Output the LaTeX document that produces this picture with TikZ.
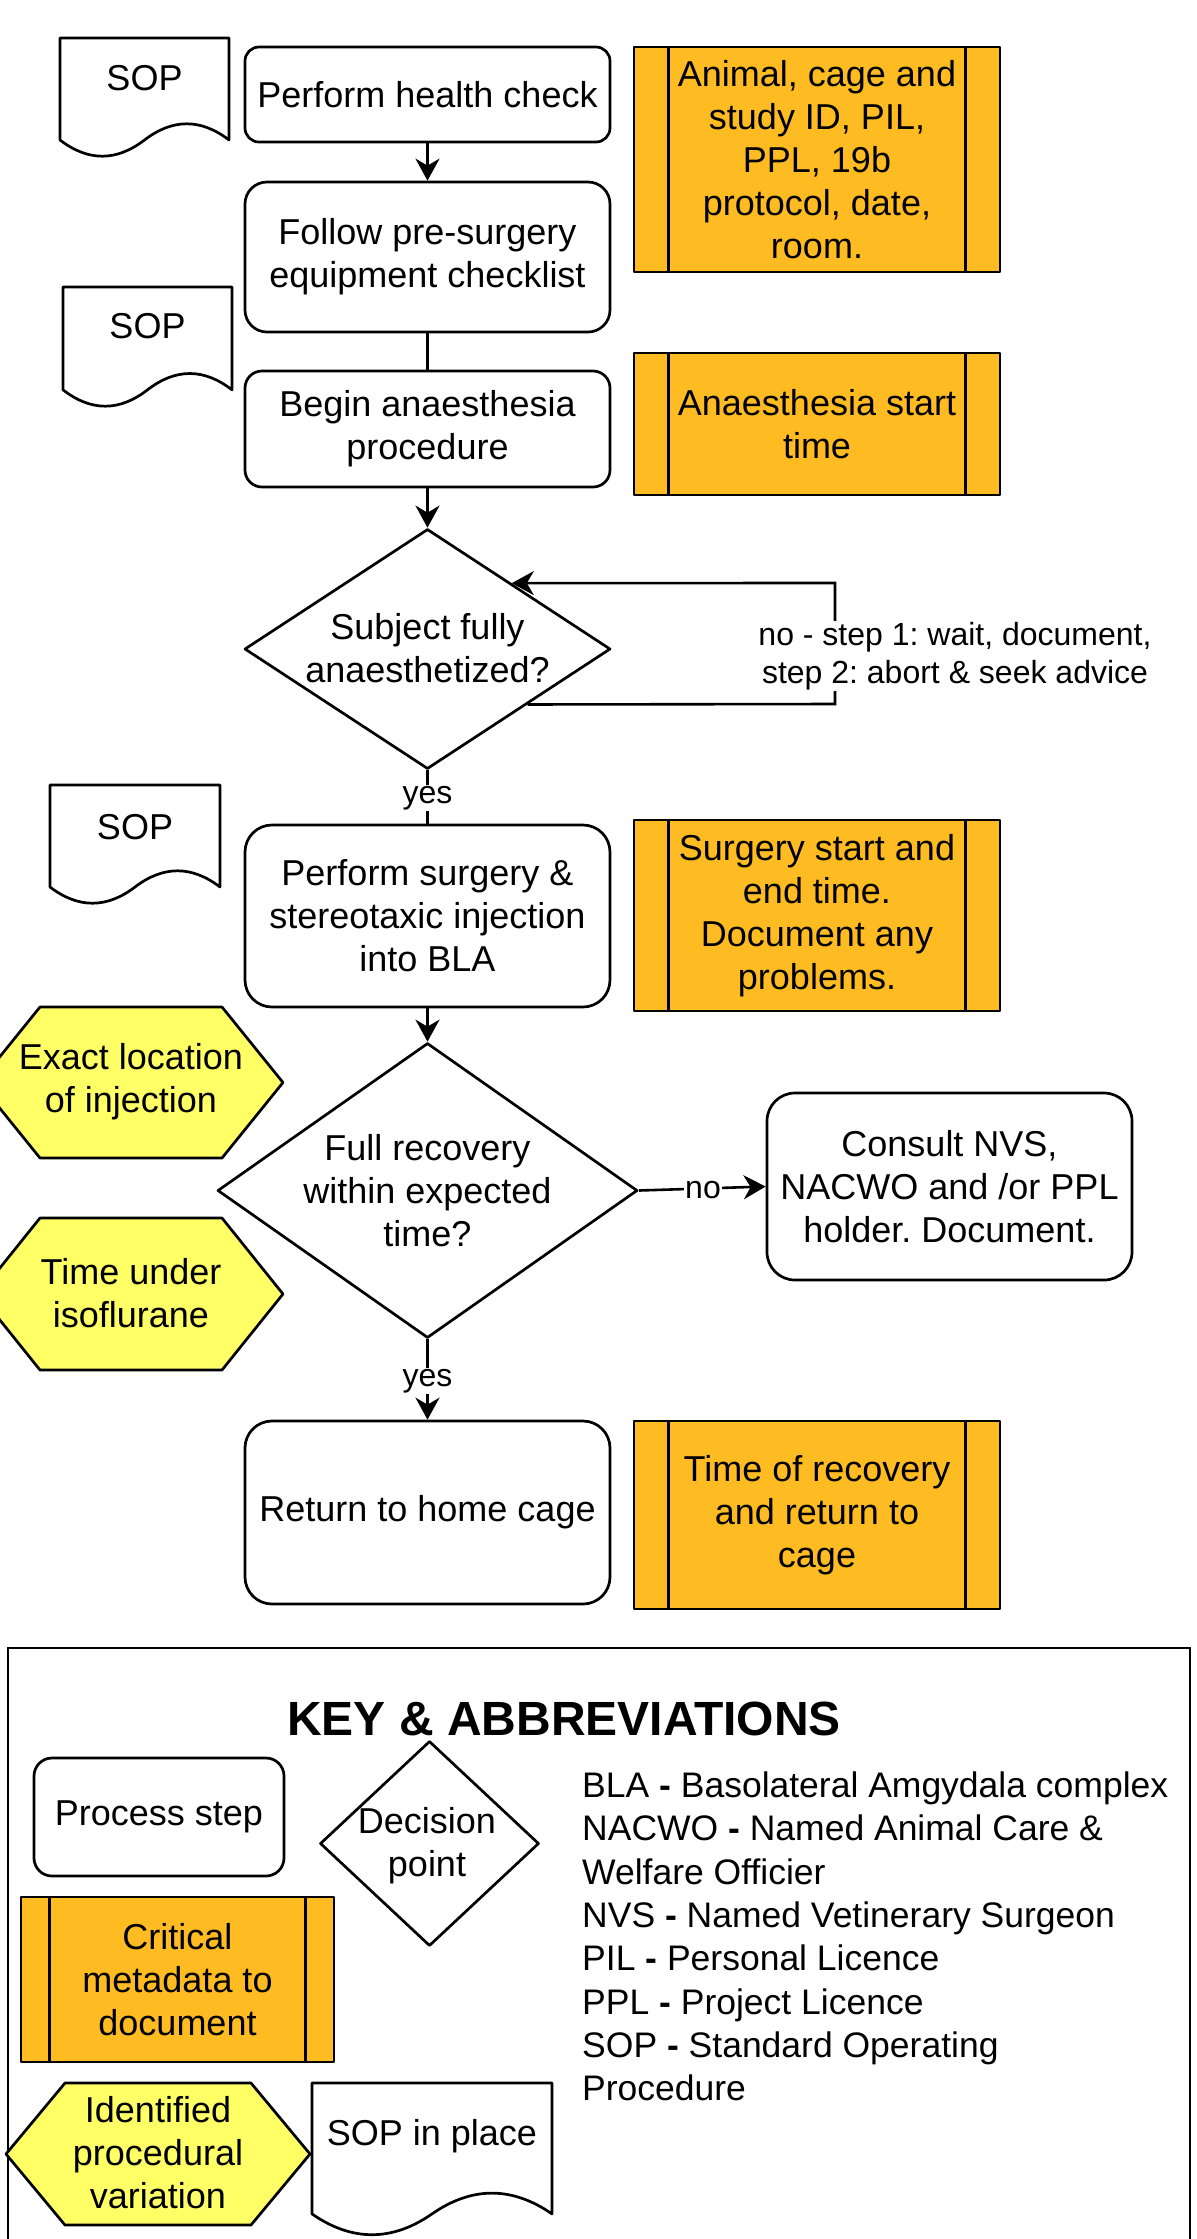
\documentclass[tikz,border=0pt]{standalone}
\usepackage{fontspec}
\setmainfont{Liberation Sans}
\usetikzlibrary{shapes.geometric,arrows.meta}
\definecolor{orng}{HTML}{FFBC22}
\definecolor{yel}{HTML}{FFFF66}
\frenchspacing
\newcommand{\mainfs}{\fontsize{36}{43}\selectfont}
\newcommand{\lblfs}{\fontsize{32}{38}\selectfont}
\newcommand{\abfs}{\fontsize{35.5}{43}\selectfont}
\newcommand{\ttlfs}{\fontsize{48}{58}\selectfont\bfseries}
% document shape: x0 y0 w h
\newcommand{\mydoc}[4]{%
  \draw[shp,fill=white] (#1,#2) -- ({#1+#3},#2) -- ({#1+#3},{#2+0.85*#4})
   .. controls ({#1+0.8333*#3},{#2+0.67*#4}) and ({#1+0.6667*#3},{#2+0.67*#4}) .. ({#1+0.5*#3},{#2+0.85*#4})
   .. controls ({#1+0.3333*#3},{#2+1.03*#4}) and ({#1+0.1667*#3},{#2+1.03*#4}) .. (#1,{#2+0.85*#4}) -- cycle;}
% hexagon: cx cy halfw halfh inset
\newcommand{\myhex}[5]{%
  \draw[shp,fill=yel] ({#1-#3},#2) -- ({#1-#3+#5},{#2-#4}) -- ({#1+#3-#5},{#2-#4}) -- ({#1+#3},#2)
   -- ({#1+#3-#5},{#2+#4}) -- ({#1-#3+#5},{#2+#4}) -- cycle;}
\tikzset{
  shp/.style={draw=black,line width=2.7pt,line join=round},
  proc/.style={shp,fill=white,inner sep=0pt,align=center,font=\mainfs},
  meta/.style={shp,fill=orng,inner sep=0pt,align=center,font=\mainfs,minimum width=366pt},
  dec/.style={shp,diamond,fill=white,inner sep=0pt},
  txt/.style={align=center,font=\mainfs,inner sep=0pt},
  lbl/.style={fill=white,inner sep=1.5pt,align=center,font=\lblfs},
  abl/.style={anchor=base west,inner sep=0pt,font=\abfs},
  ln/.style={line width=2.6pt},
  arr/.style={line width=2.6pt,-{Stealth[length=22pt,width=24pt,inset=7pt]}},
}
\begin{document}
\begin{tikzpicture}[x=1pt,y=-1pt]
\useasboundingbox (0,0) rectangle (1197,2239);

% ---------- SOP documents ----------
\mydoc{60}{38}{169}{120}
\node[txt] (sop1) at (144.5,78) {SOP};
\mydoc{63}{287}{169}{121}
\node[txt] (sop2) at (147.5,326) {SOP};
\mydoc{50}{785}{170}{120}
\node[txt] (sop3) at (135,827) {SOP};

% ---------- process boxes ----------
\node[proc,rounded corners=14pt,minimum width=365pt,minimum height=95pt] (b1) at (427.5,94.5) {Perform health check};
\node[proc,rounded corners=22pt,minimum width=365pt,minimum height=150pt] (b2) at (427.5,257) {Follow pre-surgery\\equipment checklist};
\node[proc,rounded corners=17pt,minimum width=365pt,minimum height=116pt] (b3) at (427.5,429) {Begin anaesthesia\\procedure};
\node[dec,minimum width=366pt,minimum height=240pt] (d1) at (427.5,649) {};
\node[txt] (d1t) at (427.5,648) {Subject fully\\anaesthetized?};
\node[proc,rounded corners=27pt,minimum width=365pt,minimum height=182pt] (b4) at (427.5,916) {Perform surgery \&\\stereotaxic injection\\into BLA};
\node[dec,minimum width=420pt,minimum height=295pt] (d2) at (427.5,1190.5) {};
\node[txt] (d2t) at (427.5,1191) {Full recovery\\within expected\\time?};
\node[proc,rounded corners=28pt,minimum width=365pt,minimum height=187pt] (con) at (949.5,1186.5) {Consult NVS,\\NACWO and /or PPL\\holder. Document.};
\node[proc,rounded corners=27pt,minimum width=365pt,minimum height=183pt] (ret) at (427.5,1512.5) {Return to home cage};

% ---------- metadata boxes ----------
\node[meta,minimum height=225pt] (o1) at (817,159.5) {Animal, cage and\\study ID, PIL,\\PPL, 19b\\protocol, date,\\room.};
\node[meta,minimum height=142pt] (o2) at (817,424) {Anaesthesia start\\time};
\node[meta,minimum height=191pt] (o3) at (817,915.5) {Surgery start and\\end time.\\Document any\\problems.};
\node[meta,minimum height=188pt] (o4) at (817,1515) {Time of recovery\\and return to\\cage};
\foreach \o in {o1,o2,o3,o4}{
  \draw[shp] ([xshift=36pt]\o.north west) -- ([xshift=36pt]\o.south west);
  \draw[shp] ([xshift=-36pt]\o.north east) -- ([xshift=-36pt]\o.south east);
}

% ---------- variation hexagons ----------
\myhex{131}{1082.5}{152}{75.5}{61}
\node[txt] (h1) at (131,1082) {Exact location\\of injection};
\myhex{131}{1294}{152}{76}{61}
\node[txt] (h2) at (131,1293) {Time under\\isoflurane};

% ---------- connectors ----------
\draw[arr] (b1.south) -- (b2.north);
\draw[ln] (b2.south) -- (b3.north);
\draw[arr] (b3.south) -- (d1.north);
\coordinate (lpA) at (835,704);
\coordinate (lpB) at (835,583);
\draw[arr] (d1.-29) -- (lpA) -- (lpB) -- (d1.38.7);
\node[lbl] (loopl) at (955,656) {no - step 1: wait, document,\\step 2: abort \& seek advice};
\draw[ln] (d1.south) -- (b4.north);
\node[lbl] (yes1) at (427.5,798) {yes};
\draw[arr] (b4.south) -- (d2.north);
\draw[arr] (d2.east) -- (con.west);
\node[lbl] (no2) at (703,1190) {no};
\draw[arr] (d2.south) -- (ret.north);
\node[lbl] (yes2) at (427.5,1381) {yes};

% ---------- key ----------
\draw[line width=2.4pt] (8,1648) rectangle (1190,2280);
\node[anchor=base,inner sep=0pt,font=\ttlfs] (title) at (564,1735) {KEY \& ABBREVIATIONS};
\node[proc,rounded corners=18pt,minimum width=250pt,minimum height=118pt] (kps) at (159,1817) {Process step};
\node[dec,minimum width=219pt,minimum height=205pt] (kd) at (429.5,1843.5) {};
\node[txt] (kdt) at (427,1846) {Decision\\point};
\node[meta,minimum width=313pt,minimum height=165pt] (kcm) at (177.5,1979.5) {Critical\\metadata to\\document};
\draw[shp] ([xshift=30pt]kcm.north west) -- ([xshift=30pt]kcm.south west);
\draw[shp] ([xshift=-30pt]kcm.north east) -- ([xshift=-30pt]kcm.south east);
\myhex{158}{2154}{152}{71}{59}
\node[txt] (khx) at (158,2153) {Identified\\procedural\\variation};
\mydoc{312}{2083}{240}{154}
\node[txt] (kdoc) at (432,2136) {SOP in place};

\node[abl] (ab1) at (582,1797) {BLA \textbf{-} Basolateral Amgydala complex};
\node[abl] (ab2) at (582,1840) {NACWO \textbf{-} Named Animal Care \&};
\node[abl] (ab3) at (582,1884) {Welfare Officier};
\node[abl] (ab4) at (582,1927) {NVS \textbf{-} Named Vetinerary Surgeon};
\node[abl] (ab5) at (582,1970) {PIL \textbf{-} Personal Licence};
\node[abl] (ab6) at (582,2014) {PPL \textbf{-} Project Licence};
\node[abl] (ab7) at (582,2057) {SOP \textbf{-} Standard Operating};
\node[abl] (ab8) at (582,2100) {Procedure};
\end{tikzpicture}
\end{document}
